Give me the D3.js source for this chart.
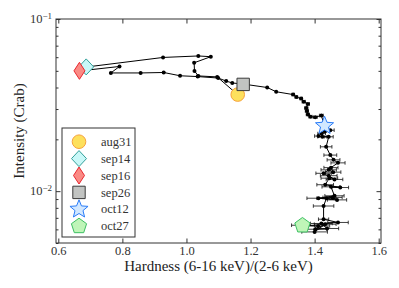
<!DOCTYPE html>
<html>
<head>
<meta charset="utf-8">
<script src="https://cdn.jsdelivr.net/npm/d3@7"></script>
<style>
  body { margin: 0; background: #fff; }
</style>
</head>
<body>
<div id="chart"></div>
<script>
// hardness ratio track (6-16 keV)/(2-6 keV), in time order
const hardness = [1.158, 1.096, 1.037, 1.025, 1.024, 1.076, 1.037, 0.927, 0.687, 0.665,
    0.791, 0.764, 0.857, 0.929, 0.980, 1.035, 1.099, 1.124, 1.143, 1.177,
    1.252, 1.280, 1.333, 1.343, 1.358, 1.366, 1.379, 1.374, 1.376, 1.379,
    1.387, 1.402, 1.421, 1.430, 1.449, 1.433, 1.422, 1.412, 1.424, 1.444,
    1.436, 1.449, 1.459, 1.473, 1.451, 1.458, 1.444, 1.428, 1.462, 1.444,
    1.446, 1.433, 1.480, 1.451, 1.462, 1.412, 1.470, 1.456, 1.437, 1.428,
    1.428, 1.473, 1.421, 1.439, 1.402, 1.433, 1.400, 1.411, 1.364];
const intensity = [0.0366, 0.0461, 0.0467, 0.0499, 0.0557, 0.0604, 0.0610, 0.0598, 0.0526, 0.0499,
    0.0530, 0.0486, 0.0486, 0.0489, 0.0468, 0.0463, 0.0454, 0.0436, 0.0425, 0.0419,
    0.0400, 0.0378, 0.0364, 0.0352, 0.0345, 0.0331, 0.0321, 0.0304, 0.0292, 0.0279,
    0.0271, 0.0269, 0.0275, 0.0242, 0.0226, 0.0223, 0.0216, 0.0209, 0.0207, 0.0207,
    0.0181, 0.0162, 0.0152, 0.0146, 0.0137, 0.0129, 0.0133, 0.0127, 0.0117, 0.0123,
    0.0119, 0.0109, 0.0105, 0.0106, 0.0094, 0.0091, 0.0089, 0.0092, 0.0091, 0.0082,
    0.00687, 0.00658, 0.00649, 0.00607, 0.00601, 0.00643, 0.00580, 0.00628, 0.00634];
const hardErr = [0, 0, 0, 0, 0, 0, 0, 0, 0, 0,
    0, 0, 0, 0, 0, 0, 0, 0, 0, 0,
    0, 0, 0.004, 0.004, 0.004, 0.005, 0.005, 0.005, 0.005, 0.005,
    0.005, 0.006, 0.006, 0.010, 0.012, 0.012, 0.012, 0.012, 0.014, 0.014,
    0.018, 0.020, 0.020, 0.022, 0.022, 0.024, 0.024, 0.024, 0.026, 0.026,
    0.026, 0.026, 0.026, 0.028, 0.030, 0.036, 0.030, 0.030, 0.030, 0.032,
    0.016, 0.032, 0.034, 0.036, 0.036, 0.034, 0.040, 0.036, 0.036];

// dated events
const eventNames = ["aug31", "sep14", "sep16", "sep26", "oct12", "oct27"];
const eventHard = [1.160, 0.687, 0.666, 1.177, 1.431, 1.362];
const eventInt = [0.0364, 0.0527, 0.0500, 0.0417, 0.0240, 0.00632];

const xTicks = [0.6, 0.8, 1.0, 1.2, 1.4, 1.6];

const FONT = "'Liberation Serif', 'DejaVu Serif', serif";
const margin = {top: 19, right: 18, bottom: 45, left: 56};
const W = 399, H = 288;
const width = W - margin.left - margin.right;
const height = H - margin.top - margin.bottom;

const svg = d3.select("#chart").append("svg")
    .attr("width", W).attr("height", H);
const g = svg.append("g")
    .attr("transform", "translate(" + margin.left + "," + margin.top + ")");

const x = d3.scaleLinear().domain([0.5928, 1.6072]).range([0, width]);
const y = d3.scaleLog().domain([0.005, 0.1]).range([height, 0]);

// marker shapes
function pentagon(r) {
    const pts = d3.range(5).map(i => {
        const a = -Math.PI / 2 + i * 2 * Math.PI / 5;
        return [r * Math.cos(a), r * Math.sin(a)];
    });
    return "M" + pts.map(p => p.join(",")).join("L") + "Z";
}
function star(ro, ri) {
    const pts = d3.range(10).map(i => {
        const a = -Math.PI / 2 + i * Math.PI / 5;
        const r = i % 2 ? ri : ro;
        return [r * Math.cos(a), r * Math.sin(a)];
    });
    return "M" + pts.map(p => p.join(",")).join("L") + "Z";
}
const styles = {
    aug31: {d: d3.symbol(d3.symbolCircle, Math.PI * 6.8 * 6.8)(), fill: "#fde05c", stroke: "#f7a13a"},
    sep14: {d: "M0,-8L7.5,0L0,8L-7.5,0Z", fill: "#c9f8f8", stroke: "#32a09a"},
    sep16: {d: "M0,-8.5L5.5,0L0,8.5L-5.5,0Z", fill: "#fa8a84", stroke: "#e8262e"},
    sep26: {d: "M-6.2,-6.2H6.2V6.2H-6.2Z", fill: "#c2c4c2", stroke: "#3a3a3a"},
    oct12: {d: star(9.5, 4.2), fill: "#d2e8ff", stroke: "#2a7cf8"},
    oct27: {d: pentagon(8), fill: "#bff5b8", stroke: "#3cbf62"}
};

// axes, ticks pointing inward on all sides
g.append("g").attr("class", "xAxisG")
    .attr("transform", "translate(0," + height + ")")
    .call(d3.axisBottom(x).tickValues(xTicks).tickSize(-4.5).tickPadding(3).tickFormat(d3.format(".1f")));
g.append("g")
    .call(d3.axisTop(x).tickValues(xTicks).tickSize(-4.5).tickFormat(""));

const majorY = [0.01, 0.1];
const minorY = [0.005, 0.006, 0.007, 0.008, 0.009, 0.02, 0.03, 0.04, 0.05, 0.06, 0.07, 0.08, 0.09];
g.append("g").attr("class", "yAxisG")
    .call(d3.axisLeft(y).tickValues(majorY).tickSize(-4.5).tickPadding(5).tickFormat(""));
g.append("g").call(d3.axisLeft(y).tickValues(minorY).tickSize(-2.5).tickFormat(""));
g.append("g").attr("transform", "translate(" + width + ",0)")
    .call(d3.axisRight(y).tickValues(majorY).tickSize(-4.5).tickFormat(""));
g.append("g").attr("transform", "translate(" + width + ",0)")
    .call(d3.axisRight(y).tickValues(minorY).tickSize(-2.5).tickFormat(""));

g.selectAll(".domain").remove();
g.selectAll(".tick line").attr("stroke", "#333");
g.selectAll(".xAxisG text").style("font-size", "12.5px").style("font-family", FONT).attr("fill", "#333");

// log tick labels 10^-n
g.selectAll(".yAxisG .tick").each(function (d) {
    const t = d3.select(this).select("text").text("")
        .attr("x", -4).attr("dy", "0.3em").style("font-size", "12.5px").style("font-family", FONT)
        .attr("fill", "#333").attr("text-anchor", "end");
    t.append("tspan").text("10");
    t.append("tspan").attr("dy", "-0.45em").style("font-size", "9px")
        .text("\u2212" + Math.round(-Math.log10(d)));
});

g.append("rect").attr("width", width).attr("height", height)
    .attr("fill", "none").attr("stroke", "#333").attr("stroke-width", 1);

// track
const track = hardness.map((h, i) => ({h: h, i: intensity[i], e: hardErr[i]}));
const errG = g.append("g");
track.filter(d => d.e > 0).forEach(d => {
    const yy = y(d.i), x0 = x(d.h - d.e), x1 = x(d.h + d.e);
    errG.append("line").attr("x1", x0).attr("x2", x1).attr("y1", yy).attr("y2", yy)
        .attr("stroke", "#111").attr("stroke-width", 0.8);
    [x0, x1].forEach(xx => errG.append("line").attr("x1", xx).attr("x2", xx)
        .attr("y1", yy - 1.8).attr("y2", yy + 1.8).attr("stroke", "#111").attr("stroke-width", 0.8));
});
g.append("path").datum(track)
    .attr("d", d3.line().x(d => x(d.h)).y(d => y(d.i)))
    .attr("fill", "none").attr("stroke", "#000").attr("stroke-width", 1);
g.selectAll(".dot").data(track).join("circle")
    .attr("class", "dot").attr("cx", d => x(d.h)).attr("cy", d => y(d.i)).attr("r", 2)
    .attr("fill", "#000");

// event markers
eventNames.forEach((n, k) => {
    g.append("path").attr("d", styles[n].d)
        .attr("transform", "translate(" + x(eventHard[k]) + "," + y(eventInt[k]) + ")")
        .attr("fill", styles[n].fill).attr("stroke", styles[n].stroke).attr("stroke-width", 1);
});

// legend
const leg = svg.append("g").attr("transform", "translate(62,128)");
leg.append("rect").attr("width", 73).attr("height", 109)
    .attr("fill", "#fff").attr("stroke", "#333").attr("stroke-width", 1);
eventNames.forEach((n, k) => {
    const yy = 13.7 + k * 16.9;
    leg.append("path").attr("d", styles[n].d)
        .attr("transform", "translate(17," + yy + ")")
        .attr("fill", styles[n].fill).attr("stroke", styles[n].stroke).attr("stroke-width", 1);
    leg.append("text").attr("x", 39).attr("y", yy).attr("dy", "0.33em")
        .style("font-size", "12.5px").style("font-family", FONT).attr("fill", "#333").text(n);
});

// axis labels
svg.append("text").attr("text-anchor", "middle")
    .attr("x", margin.left + width / 2).attr("y", 271)
    .style("font-size", "15px").style("font-family", FONT).attr("fill", "#222")
    .text("Hardness (6-16 keV)/(2-6 keV)");
svg.append("text").attr("text-anchor", "middle")
    .attr("transform", "rotate(-90)")
    .attr("x", -(margin.top + height / 2)).attr("y", 24)
    .style("font-size", "15px").style("font-family", FONT).attr("fill", "#222")
    .text("Intensity (Crab)");
</script>
</body>
</html>
